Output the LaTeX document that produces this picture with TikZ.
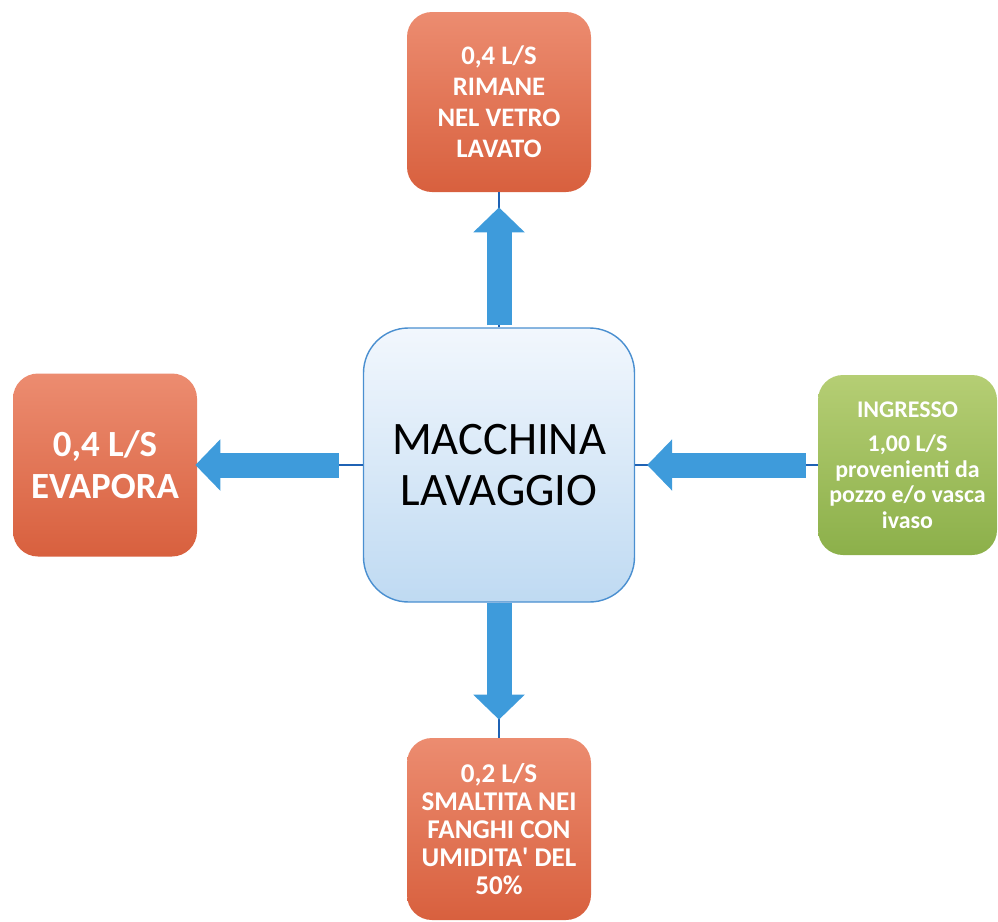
\documentclass[tikz,border=0pt]{standalone}
\usepackage{fontspec}
\setmainfont{Carlito}
\usetikzlibrary{arrows.meta}

\definecolor{outtop}{HTML}{EC8C70}
\definecolor{outbot}{HTML}{D8603E}
\definecolor{intop}{HTML}{B5CE74}
\definecolor{inbot}{HTML}{8CB04A}
\definecolor{mactop}{HTML}{F2F7FD}
\definecolor{macbot}{HTML}{BFDAF2}
\definecolor{macdraw}{HTML}{4A8FD0}
\definecolor{flowblue}{HTML}{3E9BDB}
\definecolor{linkblue}{HTML}{1F62B4}

\begin{document}
\begin{tikzpicture}
                \useasboundingbox (0,0) rectangle (19.96,-18.44);
                \begin{scope}[every node/.style={rounded corners=0.5cm,align=center,text=white,font=\bfseries,inner sep=0pt}]
                        \node [draw=macdraw, line width=0.8pt, top color=mactop, bottom color=macbot, text=black, rounded corners=0.9cm,
                               minimum width=5.42cm, minimum height=5.48cm, font=\fontsize{26.5}{29}\selectfont] (Mac) at (9.98,-9.30) {MACCHINA\\LAVAGGIO};
                        \node [top color=outtop, bottom color=outbot, minimum width=3.68cm, minimum height=3.6cm,
                               font=\bfseries\fontsize{15.2}{17.6}\selectfont] (Vetro) at (9.98,-2.04) {0,4 L/S\\RIMANE\\NEL VETRO\\LAVATO};
                        \node [top color=outtop, bottom color=outbot, minimum width=3.68cm, minimum height=3.66cm,
                               font=\bfseries\fontsize{21}{24}\selectfont] (Evap) at (2.10,-9.30) {0,4 L/S\\EVAPORA};
                        \node [top color=intop, bottom color=inbot, minimum width=3.58cm, minimum height=3.6cm,
                               font=\bfseries\fontsize{13.6}{14.6}\selectfont] (Ingr) at (18.15,-9.30) {INGRESSO\\[5pt]1,00 L/S\\provenienti da\\pozzo e/o vasca\\ivaso};
                        \node [top color=outtop, bottom color=outbot, minimum width=3.68cm, minimum height=3.64cm,
                               font=\bfseries\fontsize{15.4}{16}\selectfont] (Fanghi) at (9.98,-16.58) {0,2 L/S\\SMALTITA NEI\\FANGHI CON\\UMIDITA\textquotesingle{} DEL\\50\%};
                \end{scope}
                % thin links, then the block arrows over them
                \begin{scope}[every path/.style={linkblue, line width=1.2pt}]
                        \path (Mac.north) edge (Vetro.south);
                        \path (Mac.west) edge (Evap.east);
                        \path (Ingr.west) edge (Mac.east);
                        \path (Mac.south) edge (Fanghi.north);
                \end{scope}
                \begin{scope}[every path/.style={flowblue, line width=0.5cm, -{Triangle[width=1cm,length=0.5cm]}}]
                        \path (Mac.north) edge [shorten <=0.04cm, shorten >=0.3cm] (Vetro.south);
                        \path (Mac.west) edge [shorten <=0.48cm, shorten >=-0.04cm] (Evap.east);
                        \path (Ingr.west) edge [shorten <=0.24cm, shorten >=0.24cm] (Mac.east);
                        \path (Mac.south) edge [shorten <=0.0cm, shorten >=0.36cm] (Fanghi.north);
                \end{scope}
        \end{tikzpicture}
\end{document}
